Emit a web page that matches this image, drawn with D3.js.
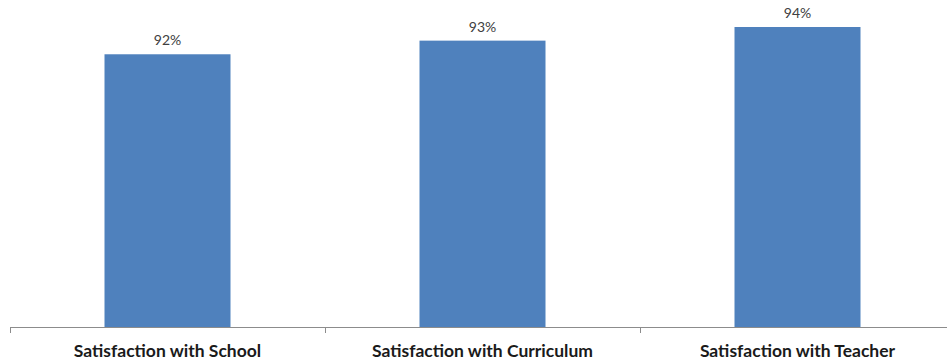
<!DOCTYPE html>
<html>
<head>
<meta charset="utf-8">
<script src="https://cdn.jsdelivr.net/npm/d3@7"></script>
<style>
  html, body { margin: 0; padding: 0; background: #fff; }
  svg { display: block; }
</style>
</head>
<body>
<svg id="chart" width="947" height="362"></svg>
<script>
// Survey satisfaction results
const categories = ["Satisfaction with School", "Satisfaction with Curriculum", "Satisfaction with Teacher"];
const values = [92, 93, 94];
const valueLabels = ["92%", "93%", "94%"];

const svg = d3.select("#chart");
const baseY = 327;

const x = d3.scaleBand()
  .domain(categories)
  .range([10, 955])
  .paddingInner(0.6)
  .paddingOuter(0.3);

// value axis is hidden; its floor sits below the lowest bar
const y = d3.scaleLinear()
  .domain([72, 94])
  .range([baseY, 27]);

// bars
svg.append("g").selectAll("rect")
  .data(values)
  .join("rect")
  .attr("x", (d, i) => x(categories[i]))
  .attr("width", x.bandwidth())
  .attr("y", d => y(d))
  .attr("height", d => baseY - y(d))
  .attr("fill", "#4f81bd");

// value labels
svg.append("g").selectAll("text")
  .data(values)
  .join("text")
  .attr("x", (d, i) => x(categories[i]) + x.bandwidth() / 2)
  .attr("y", d => y(d) - 9)
  .attr("text-anchor", "middle")
  .attr("font-family", "Lato, 'Open Sans', sans-serif")
  .attr("font-size", 14)
  .attr("fill", "#404040")
  .text((d, i) => valueLabels[i]);

// category axis with tick marks between categories
const bounds = [0, 1, 2, 3].map(i => 10 + i * x.step());
const axis = svg.append("g").attr("stroke", "#8c8c8c").attr("stroke-width", 1);
axis.append("line")
  .attr("x1", 10).attr("x2", 947)
  .attr("y1", baseY + 0.5).attr("y2", baseY + 0.5);
axis.selectAll("line.tick")
  .data(bounds)
  .join("line")
  .attr("class", "tick")
  .attr("x1", d => d + 0.5).attr("x2", d => d + 0.5)
  .attr("y1", baseY).attr("y2", baseY + 6);

// category labels
svg.append("g").selectAll("text")
  .data(categories)
  .join("text")
  .attr("x", d => x(d) + x.bandwidth() / 2)
  .attr("y", 357)
  .attr("text-anchor", "middle")
  .attr("font-family", "Lato, 'Open Sans', sans-serif")
  .attr("font-weight", "bold")
  .attr("font-size", 17.5)
  .attr("fill", "#1a1a1a")
  .text(d => d);
</script>
</body>
</html>
